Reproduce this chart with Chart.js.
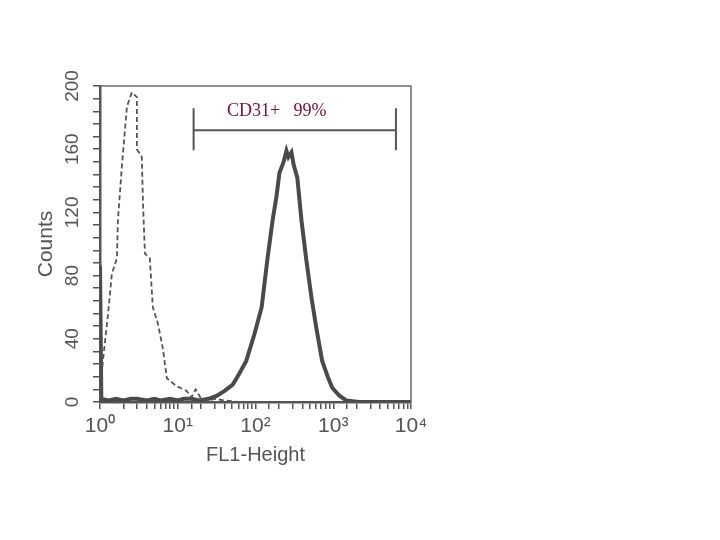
<!DOCTYPE html>
<html>
<head>
<meta charset="utf-8">
<script src="https://cdn.jsdelivr.net/npm/chart.js@4/dist/chart.umd.min.js"></script>
<style>
  html, body { margin: 0; padding: 0; background: #fff; }
  #wrap { width: 720px; height: 540px; position: relative; }
</style>
</head>
<body>
<div id="wrap"><canvas id="hist"></canvas></div>
<script>
// FL1 channel values (log scale) and counts
const posChannels = [1, 1, 1.04, 1.3, 1.6, 2, 2.5, 3, 4, 5, 6, 8, 10, 12, 15, 19, 25, 32, 40, 51, 62, 76, 97, 120, 142, 166, 186, 203, 230, 250, 265, 290, 310, 345, 390, 450, 525, 605, 720, 850, 970, 1200, 1470, 2150, 3000, 5000, 10000];
const posCounts   = [0, 86, 2, 1, 2, 1, 2, 2, 1, 2, 1, 2, 1, 2, 2, 1, 2, 4, 7, 11, 18, 26, 43, 60, 90, 115, 130, 145, 152, 159, 155, 158, 150, 142, 115, 90, 66, 47, 26, 16, 9, 4, 1, 0, 0, 0, 0];

const ctrlChannels = [1, 1.09, 1.27, 1.42, 1.65, 1.7, 1.91, 2.22, 2.57, 2.98, 2.98, 3.45, 3.56, 3.78, 4.37, 4.78, 5.53, 6.43, 7.24, 9.7, 13, 15, 17, 20, 25, 30, 40, 60];
const ctrlCounts   = [2, 26, 56, 81, 91, 115, 149, 187, 196, 193, 160, 155, 128, 94, 91, 60, 50, 34, 15, 10, 7, 3, 8, 2, 1, 2, 1, 0];

const decadeLabels = { 1: '10⁰', 10: '10¹', 100: '10²', 1000: '10³', 10000: '10⁴' };
const countTicks = [0, 40, 80, 120, 160, 200];

const gateRange = [16, 6400];
const gateLevel = 172;
const gateText = 'CD31+   99%';

const ink = '#555';

const framePlugin = {
  id: 'frame',
  afterDatasetsDraw(chart) {
    const { ctx, chartArea: a, scales } = chart;
    ctx.save();
    // top and right edges of the plot box
    ctx.strokeStyle = '#6a6a6a';
    ctx.lineWidth = 1.5;
    ctx.beginPath();
    ctx.moveTo(a.left, a.top);
    ctx.lineTo(a.right, a.top);
    ctx.lineTo(a.right, a.bottom);
    ctx.stroke();

    // gate marker
    const x1 = scales.x.getPixelForValue(gateRange[0]);
    const x2 = scales.x.getPixelForValue(gateRange[1]);
    const gy = scales.y.getPixelForValue(gateLevel);
    ctx.strokeStyle = ink;
    ctx.lineWidth = 2;
    ctx.beginPath();
    ctx.moveTo(x1, gy); ctx.lineTo(x2, gy);
    ctx.moveTo(x1, gy - 22); ctx.lineTo(x1, gy + 20);
    ctx.moveTo(x2, gy - 22); ctx.lineTo(x2, gy + 20);
    ctx.stroke();

    ctx.fillStyle = '#7a1030';
    ctx.font = '18px "Liberation Serif", "DejaVu Serif", serif';
    ctx.textAlign = 'center';
    ctx.textBaseline = 'middle';
    ctx.fillText(gateText, (x1 + x2) / 2 - 18, gy - 19);
    ctx.restore();
  }
};

new Chart(document.getElementById('hist'), {
  type: 'line',
  data: {
    datasets: [
      {
        label: 'control',
        data: ctrlChannels.map((c, i) => ({ x: c, y: ctrlCounts[i] })),
        borderColor: '#555',
        borderWidth: 1.8,
        borderDash: [5, 3],
        pointRadius: 0,
        fill: false,
        tension: 0
      },
      {
        label: 'CD31',
        data: posChannels.map((c, i) => ({ x: c, y: posCounts[i] })),
        borderColor: '#4a4a4a',
        borderWidth: 4,
        pointRadius: 0,
        fill: false,
        tension: 0
      }
    ]
  },
  options: {
    responsive: true,
    maintainAspectRatio: false,
    animation: false,
    layout: { padding: { top: 86, right: 309, bottom: 0, left: 0 } },
    plugins: { legend: { display: false }, tooltip: { enabled: false } },
    scales: {
      x: {
        type: 'logarithmic',
        min: 1,
        max: 10000,
        afterFit: s => { s.height = 138; },
        border: { color: ink, width: 2.5 },
        grid: { drawOnChartArea: false, tickLength: 7, color: ink, lineWidth: 1.5 },
        ticks: {
          autoSkip: false,
          maxRotation: 0,
          padding: 5,
          color: ink,
          font: { family: '"Liberation Sans", Arial, sans-serif', size: 21 },
          callback: v => decadeLabels[v] || ''
        },
        title: {
          display: true,
          text: 'FL1-Height',
          color: ink,
          font: { family: '"Liberation Sans", Arial, sans-serif', size: 20 },
          padding: { top: 0, bottom: 73 }
        }
      },
      y: {
        min: 0,
        max: 200,
        afterFit: s => { s.width = 100; },
        border: { color: ink, width: 2.5 },
        grid: { drawOnChartArea: false, tickLength: 7, color: ink, lineWidth: 1.5 },
        ticks: {
          stepSize: 8,
          autoSkip: false,
          minRotation: 90,
          maxRotation: 90,
          crossAlign: 'center',
          padding: 4,
          color: ink,
          font: { family: '"Liberation Sans", Arial, sans-serif', size: 19 },
          callback: v => countTicks.includes(v) ? String(v) : ''
        },
        title: {
          display: true,
          text: 'Counts',
          color: ink,
          font: { family: '"Liberation Sans", Arial, sans-serif', size: 21 },
          padding: { top: 34, bottom: 0 }
        }
      }
    }
  },
  plugins: [framePlugin]
});
</script>
</body>
</html>
